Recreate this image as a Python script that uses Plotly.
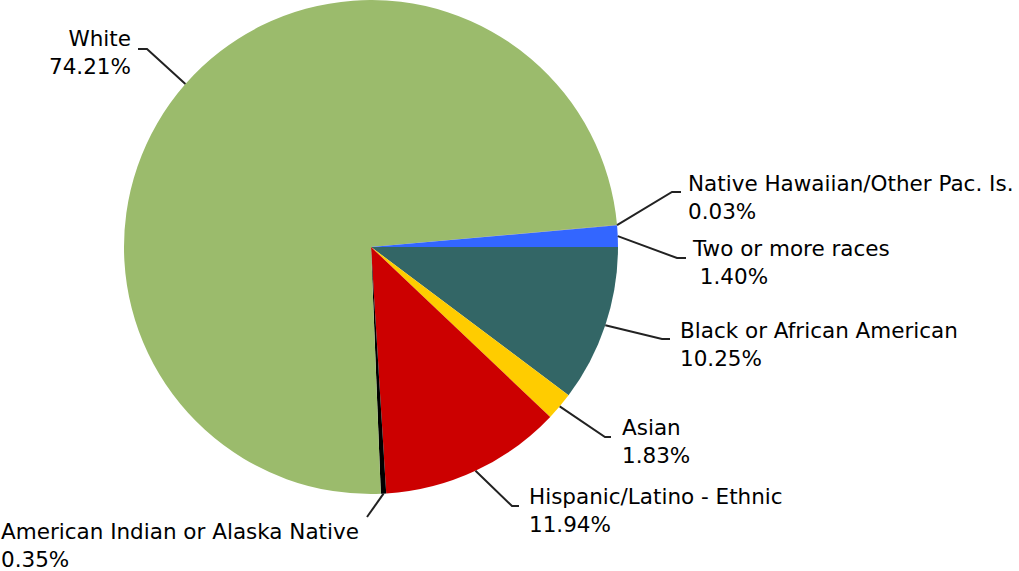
import numpy as np
import plotly.graph_objects as go

# Enrollment by race / ethnicity (percent of total)
groups = [
    "Black or African American",
    "Asian",
    "Hispanic/Latino - Ethnic",
    "American Indian or Alaska Native",
    "White",
    "Native Hawaiian/Other Pac. Is.",
    "Two or more races",
]
shares = [10.25, 1.83, 11.94, 0.35, 74.21, 0.03, 1.40]
colors = ["#336666", "#FFCC00", "#CC0000", "#000000", "#9BBB6C", "#999933", "#3366FF"]

W, H = 1019, 571
CX, CY, R = 371, 247, 247          # pie centre and radius in pixels
START = 90                          # first slice starts at 3 o'clock, clockwise

# label placement (pixels): text anchor x, cap-top y, alignment, elbow, tail end
label_layout = {
    "White": dict(x=131, top=30, align="right", elbow=(147, 49), end=(138, 49)),
    "Native Hawaiian/Other Pac. Is.": dict(x=688, top=175, align="left", elbow=(672, 192), end=(681, 192)),
    "Two or more races": dict(x=692, top=240, align="left", elbow=(677, 258), end=(686, 258)),
    "Black or African American": dict(x=680, top=322, align="left", elbow=(662, 339), end=(670, 339)),
    "Asian": dict(x=622, top=419, align="left", elbow=(605, 437), end=(611, 437)),
    "Hispanic/Latino - Ethnic": dict(x=529, top=488, align="left", elbow=(512, 506), end=(519, 506)),
    "American Indian or Alaska Native": dict(x=1, top=523, align="left", elbow=(367, 517), end=None),
}


def px(x):
    return x / W


def py(y):
    return 1 - y / H


fig = go.Figure(
    go.Pie(
        labels=groups,
        values=shares,
        sort=False,
        direction="clockwise",
        rotation=START,
        marker=dict(colors=colors, line=dict(width=0)),
        textinfo="none",
        hoverinfo="label+percent",
        showlegend=False,
        domain=dict(x=[px(CX - R), px(CX + R)], y=[py(CY + R), py(CY - R)]),
    )
)

# slice mid-angles (degrees clockwise from 12 o'clock)
vals = np.array(shares, dtype=float)
cum = np.cumsum(vals) / vals.sum() * 360
mid = START + cum - vals / vals.sum() * 360 / 2

FONT = dict(family="DejaVu Sans", size=21.5, color="#000000")
shapes = []
annotations = []
for name, value, ang in zip(groups, shares, mid):
    spec = label_layout[name]
    a = np.deg2rad(ang)
    ex, ey = CX + R * np.sin(a), CY - R * np.cos(a)
    pts = [(ex, ey), spec["elbow"]]
    if spec["end"] is not None:
        pts.append(spec["end"])
    path = "M " + " L ".join(f"{px(x):.5f},{py(y):.5f}" for x, y in pts)
    shapes.append(dict(type="path", xref="paper", yref="paper", path=path,
                       line=dict(color="#222222", width=2)))

    pct = f"{value:.2f}%"
    if name == "Two or more races":
        pct = "\u00a0" + pct
    annotations.append(dict(
        xref="paper", yref="paper",
        x=px(spec["x"]), y=py(spec["top"] - 4),
        xanchor="right" if spec["align"] == "right" else "left",
        yanchor="top", align=spec["align"],
        text=f"{name}<br>{pct}", showarrow=False,
        font=FONT, borderpad=0, borderwidth=0,
    ))

fig.update_layout(
    width=W, height=H,
    margin=dict(l=0, r=0, t=0, b=0),
    paper_bgcolor="#FFFFFF", plot_bgcolor="#FFFFFF",
    shapes=shapes, annotations=annotations,
)

fig.write_html("out.html")
